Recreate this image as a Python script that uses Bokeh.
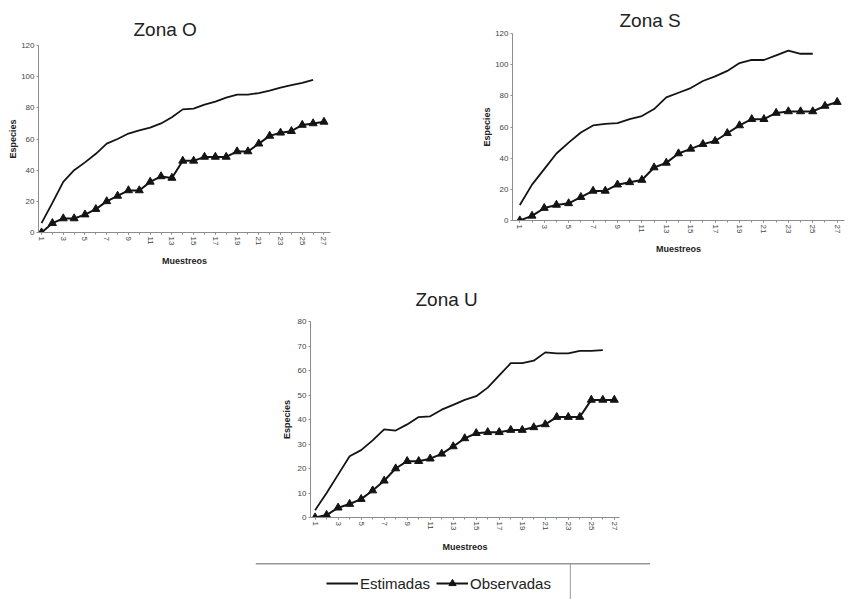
from bokeh.plotting import figure
from bokeh.layouts import column, row
from bokeh.models import Spacer, FixedTicker, Legend, LegendItem, Span, Range1d
from bokeh.embed import file_html
from bokeh.resources import INLINE

# ---------------- data ----------------
muestreos = list(range(1, 28))
tick_labels = [1, 3, 5, 7, 9, 11, 13, 15, 17, 19, 21, 23, 25, 27]

o_estimadas = [6, 19, 32.5, 40, 45, 50.5, 57, 60, 63.5, 65.5, 67.3, 70, 74, 79, 79.5,
               82, 84, 86.5, 88.5, 88.5, 89.5, 91, 93, 94.5, 96, 98]
o_observadas = [0, 6, 9, 9, 11.5, 15, 20, 23.5, 27, 27, 32.5, 36, 35, 46, 46, 48.5,
                48.5, 48.5, 52, 52, 57, 62, 64, 65, 69, 70, 71]

s_estimadas = [10, 23, 33, 43, 50, 56.5, 61, 62, 62.5, 65, 67, 71.5, 79, 82, 85,
               89.5, 92.5, 96, 101, 103, 103, 106, 109, 107, 107]
s_observadas = [0, 3, 8, 10, 11, 15, 19, 19, 23, 24.5, 26, 34, 37, 43, 46, 49, 51,
                56, 61, 65, 65, 69, 70, 70, 70, 73.5, 76]

u_estimadas = [3, 10, 17.5, 25, 27.5, 31.5, 36, 35.5, 38, 41, 41.3, 44, 46, 48,
               49.5, 53, 58, 63, 63, 64, 67.4, 67, 67, 68, 68, 68.3]
u_observadas = [0, 1, 4, 5.5, 7.5, 11, 15, 20, 23, 23, 24, 26, 29, 32.3, 34.4, 34.8,
                34.8, 35.7, 35.7, 36.8, 38, 41, 41, 41, 48, 48, 48]

FONT = "Liberation Sans"
INK = "#141414"
AXC = "#8c8c8c"


def zona(title, est, obs, x_rng, y_max, y_step, fw, fh, bl, bt, br, bb,
         t_off, t_stand, x_lab_stand, y_lab_stand):
    p = figure(frame_width=fw, frame_height=fh, min_border_left=bl, min_border_top=bt,
               min_border_right=br, min_border_bottom=bb,
               x_range=Range1d(*x_rng), y_range=Range1d(0, y_max),
               output_backend="svg", toolbar_location=None, tools="")
    p.outline_line_color = None
    p.xgrid.visible = False
    p.ygrid.visible = False
    p.background_fill_color = "white"
    p.border_fill_color = "white"

    p.title.text = title
    p.title.align = "left"
    p.title.offset = t_off
    p.title.standoff = t_stand
    p.title.text_font = FONT
    p.title.text_font_size = "19px"
    p.title.text_font_style = "normal"
    p.title.text_color = "#222222"

    xa = p.xaxis[0]
    xa.ticker = FixedTicker(ticks=tick_labels, minor_ticks=muestreos)
    xa.major_label_orientation = "vertical"
    xa.axis_label = "Muestreos"
    xa.axis_label_standoff = x_lab_stand
    ya = p.yaxis[0]
    ya.ticker = FixedTicker(ticks=list(range(0, y_max + 1, y_step)))
    ya.axis_label = "Especies"
    ya.axis_label_standoff = y_lab_stand
    for ax in (xa, ya):
        ax.axis_line_color = AXC
        ax.major_tick_line_color = AXC
        ax.minor_tick_line_color = AXC
        ax.major_tick_out = 2
        ax.major_tick_in = 0
        ax.minor_tick_out = 2
        ax.minor_tick_in = 0
        ax.major_label_text_font = FONT
        ax.major_label_text_font_size = "8px"
        ax.major_label_text_color = "#444444"
        ax.major_label_standoff = 2
        ax.axis_label_text_font = FONT
        ax.axis_label_text_font_size = "9px"
        ax.axis_label_text_font_style = "bold"
        ax.axis_label_text_color = "#222222"
    ya.minor_tick_line_color = None

    p.line(muestreos[:len(est)], est, line_color=INK, line_width=1.8)
    p.line(muestreos[:len(obs)], obs, line_color=INK, line_width=2)
    p.scatter(muestreos[:len(obs)], obs, marker="triangle", size=8,
              fill_color=INK, line_color=INK)
    return p


# zona O: frame x 38..330, y 45..232
p_o = zona("Zona O", o_estimadas, o_observadas, (0.72, 27.6), 120, 20,
           292, 187, 38, 45, 100, 42, 95, 11, 8, 0)
# zona S: frame x 512..844, y 33..220
p_s = zona("Zona S", s_estimadas, s_observadas, (0.4, 27.6), 120, 20,
           332, 187, 82, 33, 10, 54, 107, 5, 8, 0)
# zona U: frame x 310..619, y 321..517
p_u = zona("Zona U", u_estimadas, u_observadas, (0.6, 27.45), 80, 10,
           309, 196, 70, 47, 35, 43, 105, 24, 9, 3)

# ---------------- legend strip ----------------
leg = figure(frame_width=395, frame_height=36, min_border_left=0, min_border_right=0,
             min_border_top=3, min_border_bottom=0,
             x_range=Range1d(0, 1), y_range=Range1d(0, 1),
             output_backend="svg", toolbar_location=None, tools="")
leg.outline_line_color = None
leg.axis.visible = False
leg.grid.visible = False
# legend proxies: same series, hidden in this strip (only their legend glyphs show)
r_est = leg.line(muestreos[:len(u_estimadas)], u_estimadas, line_color=INK,
                 line_width=1.8, visible=False)
r_obs_l = leg.line(muestreos, u_observadas, line_color=INK, line_width=2, visible=False)
r_obs_m = leg.scatter(muestreos, u_observadas, marker="triangle", size=9,
                      fill_color=INK, line_color=INK, visible=False)
leg.add_layout(Span(location=1, dimension="width", line_color="#333333", line_width=1.5))
leg.add_layout(Span(location=0.797, dimension="height", line_color="#9a9a9a", line_width=1))
legend = Legend(items=[LegendItem(label="Estimadas", renderers=[r_est]),
                       LegendItem(label="Observadas", renderers=[r_obs_l, r_obs_m])],
                orientation="horizontal", location=(71, 7),
                glyph_width=32, glyph_height=18, label_height=18,
                label_standoff=2, spacing=6, padding=0, margin=0,
                border_line_color=None, background_fill_alpha=0,
                label_text_font=FONT, label_text_font_size="15px",
                label_text_color="#222222")
leg.add_layout(legend, "center")

layout = column(
    row(column(p_o), column(p_s)),
    row(Spacer(width=240, height=10), p_u),
    row(Spacer(width=255, height=10), leg),
)

open("out.html", "w").write(file_html(layout, INLINE))
